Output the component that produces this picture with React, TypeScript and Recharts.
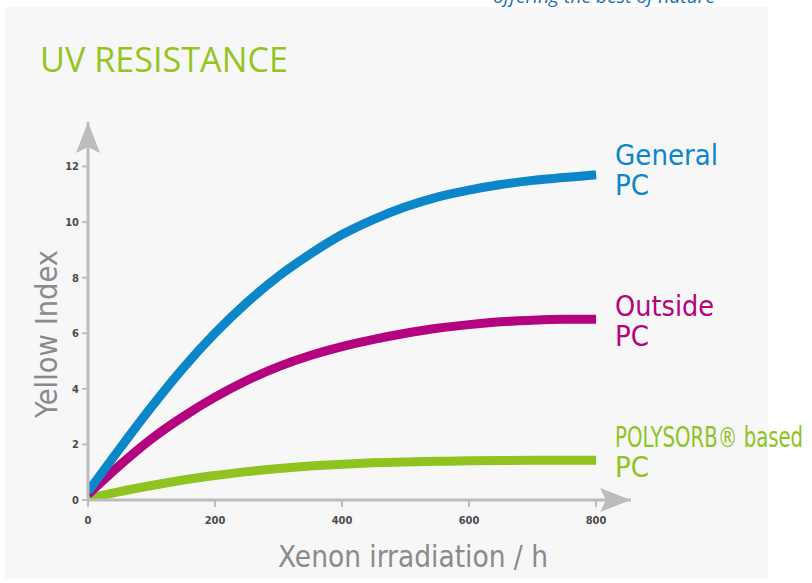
import React from 'react';
import { LineChart, Line, XAxis, YAxis, ReferenceDot, LabelList, Label } from 'recharts';

const hours = [0, 50, 100, 150, 200, 250, 300, 350, 400, 450, 500, 550, 600, 650, 700, 750, 800];
const generalPC = [0.3, 1.85, 3.35, 4.75, 6.0, 7.1, 8.05, 8.85, 9.55, 10.1, 10.55, 10.9, 11.15, 11.35, 11.5, 11.6, 11.7];
const outsidePC = [0.2, 1.25, 2.2, 3.0, 3.7, 4.3, 4.8, 5.2, 5.52, 5.78, 6.0, 6.18, 6.31, 6.41, 6.47, 6.5, 6.5];
const polysorbPC = [0.05, 0.3, 0.52, 0.72, 0.88, 1.02, 1.13, 1.22, 1.29, 1.34, 1.37, 1.39, 1.41, 1.42, 1.43, 1.43, 1.43];
const xTicks = [0, 200, 400, 600, 800];
const yTicks = [0, 2, 4, 6, 8, 10, 12];

const data = hours.map((h, i) => ({ h, general: generalPC[i], outside: outsidePC[i], polysorb: polysorbPC[i] }));

const FONT = '"DejaVu Sans Condensed", "Liberation Sans Narrow", Roboto, sans-serif';
const AXIS = '#bcbcbc';
const BLUE = '#0a86c9';
const MAGENTA = '#b3037f';
const GREEN = '#8fc31f';

const endLabel = (first: string, color: string, dy1: number, width1: number, sx: number) => (props: any) => {
  const { x, y, index } = props;
  if (index !== hours.length - 1) return null;
  const lx = x + 19;
  const ly = y + dy1;
  return (
    <g>
      <text x={0} y={0} transform={`matrix(${sx},0,0,1,${lx},${ly})`} fill={color} fontFamily={FONT} fontSize={28} fontWeight={500}
        textLength={width1 / sx} lengthAdjust="spacingAndGlyphs">{first}</text>
      <text x={lx} y={ly + 30} fill={color} fontFamily={FONT} fontSize={28} fontWeight={500}
        textLength={34} lengthAdjust="spacingAndGlyphs">PC</text>
    </g>
  );
};

const arrowUp = (props: any) => {
  const { cx, cy } = props;
  return <polygon points={`${cx},${cy} ${cx - 12},${cy + 31} ${cx},${cy + 25} ${cx + 12},${cy + 31}`} fill={AXIS} />;
};
const arrowRight = (props: any) => {
  const { cx, cy } = props;
  return <polygon points={`${cx},${cy} ${cx - 31},${cy - 12} ${cx - 25},${cy} ${cx - 31},${cy + 12}`} fill={AXIS} />;
};

export default function App() {
  return (
    <div style={{ position: 'absolute', left: 0, top: 0, width: 812, height: 583, background: '#ffffff', overflow: 'hidden' }}>
      <svg width={812} height={583} style={{ position: 'absolute', left: 0, top: 0 }}>
        <rect x={5} y={7} width={763} height={572} fill="#f7f7f8" />
      </svg>
      <div style={{ position: 'absolute', left: 0, top: 0 }}>
        <LineChart width={812} height={583} data={data} margin={{ top: 122, right: 181, bottom: 53, left: 28 }}>
          <XAxis dataKey="h" type="number" domain={[0, 855]} ticks={xTicks} allowDataOverflow
            axisLine={{ stroke: AXIS, strokeWidth: 3 }} tickLine={{ stroke: AXIS, strokeWidth: 2 }} tickSize={7} tickMargin={9}
            tick={{ fill: '#4a4a4a', fontSize: 11, fontWeight: 700, fontFamily: FONT }} height={30}>
            <Label content={(p: any) => {
              const vb = p.viewBox;
              return <text x={vb.x + 325} y={567} textAnchor="middle" fill="#8a8a8a" fontFamily={FONT}
                fontSize={30} textLength={270} lengthAdjust="spacingAndGlyphs">Xenon irradiation / h</text>;
            }} />
          </XAxis>
          <YAxis type="number" domain={[0, 13.6]} ticks={yTicks} allowDataOverflow width={60}
            axisLine={{ stroke: AXIS, strokeWidth: 3 }} tickLine={{ stroke: AXIS, strokeWidth: 2 }} tickSize={6} tickMargin={3}
            tick={{ fill: '#4a4a4a', fontSize: 11, fontWeight: 700, fontFamily: FONT }}>
            <Label content={() => (
              <text x={57} y={334} textAnchor="middle" transform="rotate(-90, 57, 334)" fill="#8a8a8a" fontFamily={FONT}
                fontSize={30} textLength={168} lengthAdjust="spacingAndGlyphs">Yellow Index</text>
            )} />
          </YAxis>
          <ReferenceDot x={0} y={13.6} r={0} shape={arrowUp} ifOverflow="visible" />
          <ReferenceDot x={855} y={0} r={0} shape={arrowRight} ifOverflow="visible" />
          <Line type="monotone" dataKey="polysorb" stroke={GREEN} strokeWidth={9} dot={false} isAnimationActive={false}>
            <LabelList dataKey="polysorb" content={endLabel('POLYSORB® based', GREEN, -13, 188, 0.75)} />
          </Line>
          <Line type="monotone" dataKey="outside" stroke={MAGENTA} strokeWidth={9} dot={false} isAnimationActive={false}>
            <LabelList dataKey="outside" content={endLabel('Outside', MAGENTA, -3, 99, 1)} />
          </Line>
          <Line type="monotone" dataKey="general" stroke={BLUE} strokeWidth={9} dot={false} isAnimationActive={false}>
            <LabelList dataKey="general" content={endLabel('General', BLUE, -10, 103, 1)} />
          </Line>
        </LineChart>
      </div>
      <svg width={812} height={583} style={{ position: 'absolute', left: 0, top: 0, pointerEvents: 'none' }}>
        <text x={40} y={72} fill="#96c41e" fontFamily={'"Open Sans", "Noto Sans", sans-serif'} fontSize={34}
          textLength={248} lengthAdjust="spacingAndGlyphs">UV RESISTANCE</text>
        <text x={493} y={3} fill="#1c6fae" fontFamily={'"Open Sans", sans-serif'} fontStyle="italic" fontSize={18}
          textLength={222} lengthAdjust="spacingAndGlyphs">offering the best of nature</text>
      </svg>
    </div>
  );
}
